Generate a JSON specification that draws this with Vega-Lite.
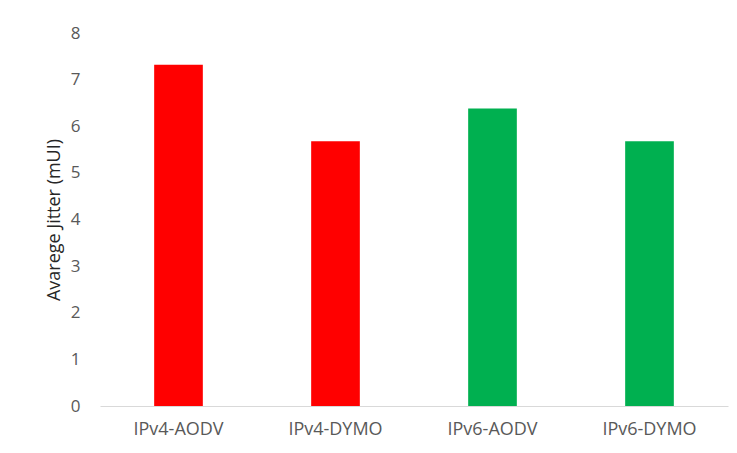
{
  "$schema": "https://vega.github.io/schema/vega-lite/v6.json",
  "width": 628,
  "height": 373,
  "autosize": "none",
  "padding": {"left": 100, "top": 33, "right": 9, "bottom": 47},
  "background": "white",
  "config": {"view": {"stroke": null}, "font": "Open Sans"},
  "data": {
    "values": [
      {"protocol": "IPv4-AODV", "jitter": 7.32, "ip": "IPv4"},
      {"protocol": "IPv4-DYMO", "jitter": 5.68, "ip": "IPv4"},
      {"protocol": "IPv6-AODV", "jitter": 6.38, "ip": "IPv6"},
      {"protocol": "IPv6-DYMO", "jitter": 5.68, "ip": "IPv6"}
    ]
  },
  "mark": {"type": "bar"},
  "encoding": {
    "x": {
      "field": "protocol",
      "type": "nominal",
      "sort": null,
      "scale": {"paddingInner": 0.69, "paddingOuter": 0.345},
      "axis": {
        "title": null,
        "labelAngle": 0,
        "labelFontSize": 18,
        "labelColor": "#595959",
        "labelPadding": 14,
        "ticks": false,
        "domainColor": "#d9d9d9",
        "domainWidth": 1
      }
    },
    "y": {
      "field": "jitter",
      "type": "quantitative",
      "scale": {"domain": [0, 8]},
      "axis": {
        "title": "Avarege Jitter (mUI)",
        "titleFontSize": 18,
        "titleFontWeight": "normal",
        "titleColor": "#262626",
        "titlePadding": 7,
        "values": [0, 1, 2, 3, 4, 5, 6, 7, 8],
        "labelFontSize": 17,
        "labelColor": "#595959",
        "labelPadding": 20,
        "ticks": false,
        "domain": false,
        "grid": false
      }
    },
    "color": {
      "field": "ip",
      "type": "nominal",
      "scale": {"domain": ["IPv4", "IPv6"], "range": ["#ff0000", "#00b050"]},
      "legend": null
    }
  }
}
